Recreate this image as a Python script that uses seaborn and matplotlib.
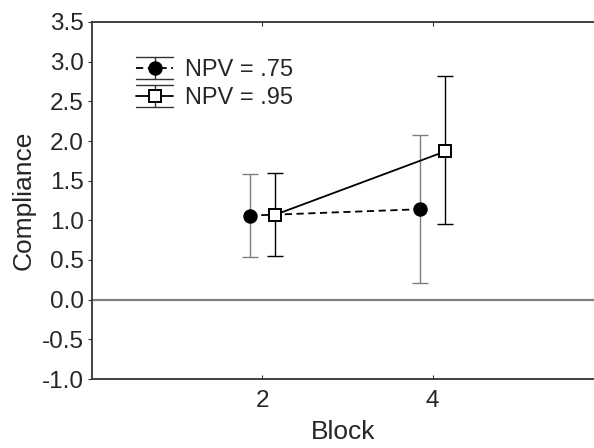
import numpy as np
import pandas as pd
import matplotlib
matplotlib.use('Agg')
import matplotlib.pyplot as plt
import seaborn as sns
from matplotlib.legend_handler import HandlerBase
from matplotlib.lines import Line2D

# Dados
blocks = [2, 4]
group_labels = ['NPV = .75', 'NPV = .95']
means_75 = [1.06, 1.14]
lower_75 = [0.54, 0.21]
upper_75 = [1.59, 2.07]
means_95 = [1.07, 1.87]
lower_95 = [0.55, 0.95]
upper_95 = [1.60, 2.82]

y_ticks = [-1.0, -0.5, 0.0, 0.5, 1.0, 1.5, 2.0, 2.5, 3.0, 3.5]
x_ticks = [2, 4]

sns.set_style('ticks')
plt.rcParams['font.family'] = ['Liberation Sans', 'DejaVu Sans']

fig = plt.figure(figsize=(5.94, 4.48), dpi=100)
ax = fig.add_axes([92 / 594, 69 / 448, (594 - 92) / 594, (379 - 22) / 448])

# estilo de cada serie: deslocamento, marcador, preenchimento, linha, cor da barra
styles = [
    dict(offset=-0.15, marker='o', mfc='black', ls=(0, (4, 2.5)), ecolor='#7f7f7f', ms=9),
    dict(offset=0.15, marker='s', mfc='white', ls='-', ecolor='black', ms=8.5),
]
series = [(means_75, lower_75, upper_75), (means_95, lower_95, upper_95)]

ax.axhline(0, color='#7f7f7f', lw=1.6, zorder=1)

for label, (m, lo, hi), st in zip(group_labels, series, styles):
    df = pd.DataFrame({'x': np.array(blocks) + st['offset'], 'y': m})
    err = np.array([np.array(m) - np.array(lo), np.array(hi) - np.array(m)])
    ax.errorbar(df['x'], df['y'], yerr=err, fmt='none', ecolor=st['ecolor'],
                elinewidth=1.0, capsize=6, capthick=1.0, zorder=2)
    sns.lineplot(data=df, x='x', y='y', ax=ax, color='black', lw=1.3,
                 linestyle=st['ls'], marker=st['marker'], markersize=st['ms'],
                 markerfacecolor=st['mfc'], markeredgecolor='black',
                 markeredgewidth=1.4, legend=False, zorder=3)


class ErrHandler(HandlerBase):
    # simbolo da legenda: linha, barra de erro com tampas largas e marcador
    def create_artists(self, legend, orig, xd, yd, w, h, fontsize, trans):
        st = orig
        cy = yd + h / 2
        cx = xd + w / 2
        d = h * 0.66
        cap_color = '#333333'
        arts = [
            Line2D([xd, xd + w], [cy + d, cy + d], color=cap_color, lw=1.0),
            Line2D([xd, xd + w], [cy - d, cy - d], color=cap_color, lw=1.0),
            Line2D([cx, cx], [cy - d, cy + d], color=cap_color, lw=1.0),
            Line2D([xd, xd + w], [cy, cy], color='black', lw=1.3, linestyle=st['ls']),
            Line2D([cx], [cy], marker=st['marker'], ms=st['ms'], mfc=st['mfc'],
                   mec='black', mew=1.4, ls='none'),
        ]
        for a in arts:
            a.set_transform(trans)
        return arts


class Proxy(dict):
    pass


proxies = [Proxy(st) for st in styles]
ax.legend(proxies, group_labels, handler_map={Proxy: ErrHandler()},
          loc='upper left', bbox_to_anchor=(0.088, 0.895), frameon=False,
          fontsize=17, handlelength=1.57, handletextpad=0.5, labelspacing=0.25,
          borderaxespad=0, borderpad=0)

ax.set_xlim(0, 501 / 85)
ax.set_ylim(-1.0, 3.5)
ax.set_xticks(x_ticks)
ax.set_yticks(y_ticks)
ax.set_yticklabels([f'{v:.1f}' for v in y_ticks])
ax.tick_params(axis='x', direction='in', length=3, top=True, labelsize=17.5, pad=8, color='#333333')
ax.tick_params(axis='y', direction='out', length=3, labelsize=17.5, pad=3, color='#333333')
for s in ['left', 'bottom', 'top']:
    ax.spines[s].set_color('#333333')
    ax.spines[s].set_linewidth(1.3)
ax.spines['right'].set_visible(False)

ax.set_xlabel('Block', fontsize=19, labelpad=6)
ax.set_ylabel('Compliance', fontsize=19, labelpad=4)

fig.savefig('out.png', dpi=100)
